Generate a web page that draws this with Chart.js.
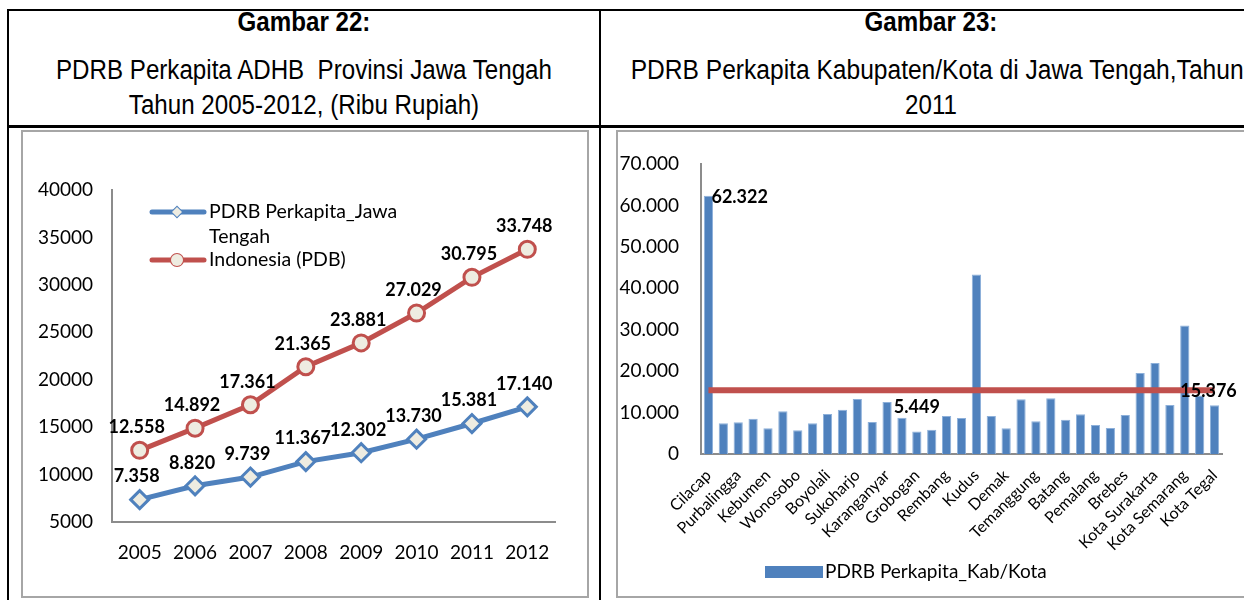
<!DOCTYPE html>
<html>
<head>
<meta charset="utf-8">
<script src="https://cdn.jsdelivr.net/npm/chart.js@4.4.1/dist/chart.umd.min.js"></script>
<style>
  body { margin: 0; background: #fff; width: 1244px; height: 600px; overflow: hidden; position: relative; }
  .ln { position: absolute; background: #000; }
  .hd { position: absolute; text-align: center; white-space: nowrap; color: #000;
        font-family: "Liberation Sans", Arial, sans-serif;
        font-size: 27px; line-height: 34px;
        transform: scaleX(0.894); transform-origin: center; }
  .hd.b { font-weight: bold; }
  .frame { position: absolute; border: 2px solid #a6a6a6; box-sizing: border-box; }
  canvas { position: absolute; }
</style>
</head>
<body>

<!-- table lines -->
<div class="ln" style="left:7px;top:9px;width:1237px;height:2px"></div>
<div class="ln" style="left:7px;top:125px;width:1237px;height:3px"></div>
<div class="ln" style="left:7px;top:9px;width:2px;height:591px"></div>
<div class="ln" style="left:599px;top:9px;width:2px;height:591px"></div>

<!-- headers -->
<div class="hd b" style="left:9px;width:590px;top:5px">Gambar 22:</div>
<div class="hd" style="left:9px;width:590px;top:53px">PDRB Perkapita ADHB&nbsp; Provinsi Jawa Tengah</div>
<div class="hd" style="left:9px;width:590px;top:88px">Tahun 2005-2012, (Ribu Rupiah)</div>
<div class="hd b" style="left:601px;width:660px;top:5px">Gambar 23:</div>
<div class="hd" style="left:601px;width:660px;top:53px;transform:scaleX(0.91)">PDRB Perkapita Kabupaten/Kota di Jawa Tengah,Tahun</div>
<div class="hd" style="left:601px;width:660px;top:88px">2011</div>

<!-- chart frames -->
<div class="frame" style="left:21px;top:130px;width:568px;height:468px"></div>
<div class="frame" style="left:616px;top:130px;width:640px;height:468px"></div>

<canvas id="leftChart" width="562" height="462" style="left:24px;top:133px"></canvas>
<canvas id="rightChart" width="625" height="462" style="left:619px;top:133px"></canvas>

<script>
// ===== data =====
const years = ['2005', '2006', '2007', '2008', '2009', '2010', '2011', '2012'];
const jatengVals = [7358, 8820, 9739, 11367, 12302, 13730, 15381, 17140];
const indoVals = [12558, 14892, 17361, 21365, 23881, 27029, 30795, 33748];
const leftYTicks = [5000, 10000, 15000, 20000, 25000, 30000, 35000, 40000];

const kabKota = ['Cilacap', 'Banyumas', 'Purbalingga', 'Banjarnegara', 'Kebumen', 'Purworejo',
  'Wonosobo', 'Magelang', 'Boyolali', 'Klaten', 'Sukoharjo', 'Wonogiri', 'Karanganyar', 'Sragen',
  'Grobogan', 'Blora', 'Rembang', 'Pati', 'Kudus', 'Jepara', 'Demak', 'Semarang', 'Temanggung',
  'Kendal', 'Batang', 'Pekalongan', 'Pemalang', 'Tegal', 'Brebes', 'Kota Magelang',
  'Kota Surakarta', 'Kota Salatiga', 'Kota Semarang', 'Kota Pekalongan', 'Kota Tegal'];
const kabVals = [62322, 7400, 7650, 8530, 6200, 10300, 5720, 7400, 9660, 10700, 13280, 7730,
  12560, 8780, 5449, 5880, 9180, 8690, 43310, 9180, 6200, 13200, 7890, 13440, 8290, 9580,
  7000, 6280, 9420, 19560, 21980, 11830, 30990, 14100, 11750];
const jatengAvg = 15376;
const rightYTicks = [0, 10000, 20000, 30000, 40000, 50000, 60000, 70000];

const BLUE = '#4F81BD';
const RED = '#C0504D';
const FILL = '#EEECE1';
const AXIS = '#8c8c8c';

Chart.defaults.font.family = 'Lato, "Open Sans", sans-serif';
Chart.defaults.color = '#000';

// dot as thousands separator
const fmt = v => String(v).replace(/\B(?=(\d{3})+(?!\d))/g, '.');

// ===== left chart: line =====
const leftLabels = {
  id: 'leftLabels',
  afterDatasetsDraw(chart) {
    const ctx = chart.ctx;
    ctx.save();
    ctx.font = 'bold 18px Lato';
    ctx.fillStyle = '#000';
    ctx.textAlign = 'center';
    ctx.textBaseline = 'middle';
    chart.data.datasets.forEach((ds, di) => {
      chart.getDatasetMeta(di).data.forEach((pt, i) => {
        ctx.fillText(fmt(ds.data[i]), pt.x - 3, pt.y - 23);
      });
    });
    ctx.restore();
  },
  afterDraw(chart) {
    // legend inside plot
    const ctx = chart.ctx;
    ctx.save();
    const items = [
      { color: BLUE, style: 'rectRot', y: 79, text: ['PDRB Perkapita_Jawa', 'Tengah'] },
      { color: RED, style: 'circle', y: 127, text: ['Indonesia (PDB)'] }
    ];
    items.forEach(it => {
      ctx.strokeStyle = it.color;
      ctx.lineWidth = 5;
      ctx.lineCap = 'round';
      ctx.beginPath();
      ctx.moveTo(128, it.y);
      ctx.lineTo(180, it.y);
      ctx.stroke();
      ctx.fillStyle = FILL;
      ctx.lineWidth = 2;
      Chart.helpers.drawPoint(ctx, { pointStyle: it.style, radius: it.style === 'circle' ? 6 : 5, borderWidth: 2 }, 153, it.y);
      ctx.fill();
      ctx.fillStyle = '#000';
      ctx.font = '19.5px Lato';
      ctx.textAlign = 'left';
      ctx.textBaseline = 'middle';
      it.text.forEach((t, k) => ctx.fillText(t, 185, it.y + k * 25));
    });
    ctx.restore();
  }
};

new Chart(document.getElementById('leftChart'), {
  type: 'line',
  data: {
    labels: years,
    datasets: [
      {
        label: 'PDRB Perkapita_Jawa Tengah',
        data: jatengVals,
        borderColor: BLUE,
        borderWidth: 5,
        pointStyle: 'rectRot',
        pointRadius: 9,
        pointBorderWidth: 3,
        pointBackgroundColor: FILL,
        pointBorderColor: BLUE
      },
      {
        label: 'Indonesia (PDB)',
        data: indoVals,
        borderColor: RED,
        borderWidth: 5,
        pointStyle: 'circle',
        pointRadius: 8,
        pointBorderWidth: 3,
        pointBackgroundColor: FILL,
        pointBorderColor: RED
      }
    ]
  },
  options: {
    responsive: false,
    animation: false,
    layout: { padding: { top: 57, right: 31, left: 0, bottom: 0 } },
    plugins: { legend: { display: false }, tooltip: { enabled: false } },
    scales: {
      x: {
        offset: true,
        grid: { display: false },
        border: { display: true, color: AXIS, width: 2 },
        ticks: { font: { size: 19 }, padding: 11 },
        afterFit: s => { s.height = 73; }
      },
      y: {
        min: 5000,
        max: 40000,
        grid: { display: false },
        border: { display: true, color: AXIS, width: 2 },
        ticks: { font: { size: 19 }, padding: 11, callback: v => String(v) },
        afterBuildTicks: s => { s.ticks = leftYTicks.map(v => ({ value: v })); },
        afterFit: s => { s.width = 88; }
      }
    }
  },
  plugins: [leftLabels]
});

// ===== right chart: bar + average line =====
const rightLabels = {
  id: 'rightLabels',
  afterDatasetsDraw(chart) {
    const ctx = chart.ctx;
    const bars = chart.getDatasetMeta(0).data;
    const line = chart.getDatasetMeta(1).data;
    ctx.save();
    ctx.font = 'bold 18px Lato';
    ctx.fillStyle = '#000';
    ctx.textBaseline = 'middle';
    // highest
    const iMax = kabVals.indexOf(Math.max(...kabVals));
    ctx.textAlign = 'left';
    ctx.fillText(fmt(kabVals[iMax]), bars[iMax].x + 3, bars[iMax].y + 1);
    // lowest
    const iMin = kabVals.indexOf(Math.min(...kabVals));
    ctx.textAlign = 'center';
    ctx.fillText(fmt(kabVals[iMin]), bars[iMin].x, bars[iMin].y - 24);
    // average line label
    const last = line[line.length - 1];
    ctx.fillText(fmt(jatengAvg), last.x - 6, last.y + 1);
    ctx.restore();
  },
  afterDraw(chart) {
    const ctx = chart.ctx;
    ctx.save();
    ctx.fillStyle = BLUE;
    ctx.fillRect(146, 433, 58, 12);
    ctx.fillStyle = '#000';
    ctx.font = '19px Lato';
    ctx.textAlign = 'left';
    ctx.textBaseline = 'middle';
    ctx.fillText(chart.data.datasets[0].label, 206, 439);
    ctx.restore();
  }
};

new Chart(document.getElementById('rightChart'), {
  type: 'bar',
  data: {
    labels: kabKota,
    datasets: [
      {
        label: 'PDRB Perkapita_Kab/Kota',
        data: kabVals,
        backgroundColor: BLUE,
        borderColor: '#8DB0DA',
        borderWidth: { top: 1, left: 1, right: 1, bottom: 0 },
        barPercentage: 0.62,
        categoryPercentage: 1,
        order: 2
      },
      {
        type: 'line',
        label: 'Jawa Tengah',
        data: kabKota.map(() => jatengAvg),
        borderColor: RED,
        borderWidth: 6,
        pointRadius: 0,
        order: 1
      }
    ]
  },
  options: {
    responsive: false,
    animation: false,
    layout: { padding: { top: 31, right: 22, left: 0, bottom: 41 } },
    plugins: { legend: { display: false }, tooltip: { enabled: false } },
    scales: {
      x: {
        grid: { display: false },
        border: { display: true, color: AXIS, width: 2 },
        ticks: {
          autoSkip: false,
          minRotation: 45,
          maxRotation: 45,
          font: { size: 16 },
          padding: 4,
          callback: (v, i) => (i % 2 === 0 ? kabKota[i] : '')
        },
        afterFit: s => { s.height = 100; }
      },
      y: {
        min: 0,
        max: 70000,
        grid: { display: false },
        border: { display: true, color: AXIS, width: 2 },
        ticks: { font: { size: 19 }, padding: 14, callback: v => fmt(v) },
        afterBuildTicks: s => { s.ticks = rightYTicks.map(v => ({ value: v })); },
        afterFit: s => { s.width = 82; }
      }
    }
  },
  plugins: [rightLabels]
});
</script>
</body>
</html>
